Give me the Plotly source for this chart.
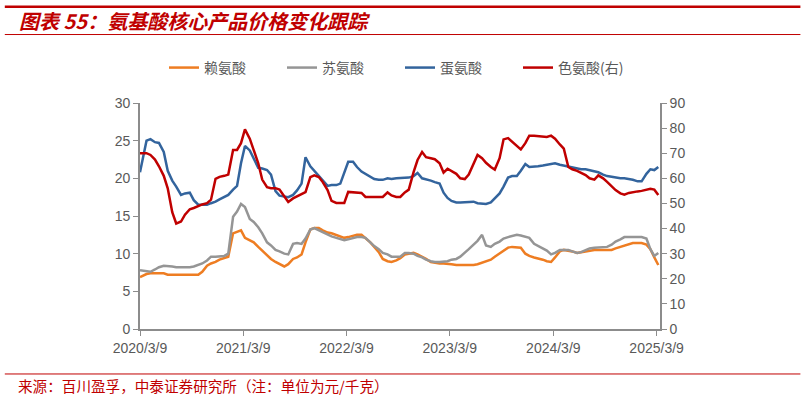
import pandas as pd
import plotly.graph_objects as go

# Dates: start point, then semi-monthly (1st / 15th) through 2025-03-15
dates = ["2020-03-09"] + [d.strftime("%Y-%m-%d") for d in pd.date_range("2020-04-01", "2025-03-15", freq="SMS")]

# 赖氨酸 (left axis, 元/千克)
lysine = [
    6.9, 7.3, 7.4, 7.4, 7.4, 7.4, 7.2, 7.2, 7.2, 7.2, 7.2, 7.2, 7.2, 7.2, 7.6, 8.4, 8.7, 8.9, 9.2,
    9.4, 9.6, 12.7, 12.9, 13.1, 12.1, 11.8, 11.5, 10.9, 10.4, 9.9, 9.3, 8.9, 8.6, 8.3, 8.6, 9.3, 9.5, 9.9, 11.5, 13.2, 13.4, 13.4, 13.1,
    12.8, 12.7, 12.5, 12.3, 12.1, 12.2, 12.4, 12.5, 12.5, 12.1, 11.5, 10.9, 10.2, 9.3, 9.0, 8.9, 9.1, 9.4, 9.9, 10.0, 10.1, 9.9, 9.6, 9.3,
    8.9, 8.8, 8.7, 8.7, 8.6, 8.6, 8.5, 8.5, 8.5, 8.5, 8.5, 8.6, 8.8, 8.9, 9.2, 9.6, 10.0, 10.4, 10.8, 10.9, 10.9, 10.8, 10.0, 9.7,
    9.5, 9.4, 9.2, 9.0, 8.9, 9.5, 10.3, 10.5, 10.4, 10.3, 10.1, 10.2, 10.3, 10.4, 10.5, 10.5, 10.5, 10.5, 10.5, 10.7, 10.9, 11.1, 11.3, 11.4,
    11.4, 11.4, 11.2, 10.6, 9.5, 8.5,
]

# 苏氨酸 (left axis)
threonine = [
    7.8, 7.7, 7.6, 7.9, 8.2, 8.4, 8.4, 8.3, 8.2, 8.2, 8.2, 8.2, 8.3, 8.5, 8.7, 9.1, 9.6, 9.6, 9.6,
    9.7, 10.0, 14.9, 15.6, 16.6, 16.2, 14.6, 14.2, 13.5, 12.7, 11.5, 11.1, 10.5, 10.3, 10.0, 9.9, 11.3, 11.4, 11.3, 12.0, 13.2, 13.4, 13.1, 12.9,
    12.6, 12.3, 12.1, 12.0, 11.8, 11.9, 12.1, 12.2, 12.2, 12.1, 11.5, 11.0, 10.6, 10.1, 9.9, 9.6, 9.6, 9.6, 10.1, 10.1, 10.0, 9.7, 9.5, 9.2,
    9.0, 8.9, 8.9, 8.9, 9.0, 9.2, 9.3, 9.6, 10.1, 10.6, 11.2, 11.7, 12.5, 11.1, 10.9, 11.3, 11.6, 12.0, 12.2, 12.3, 12.5, 12.4, 12.2, 12.1,
    11.3, 11.0, 10.7, 10.4, 9.9, 10.1, 10.5, 10.5, 10.5, 10.3, 10.1, 10.2, 10.5, 10.7, 10.8, 10.8, 10.9, 10.9, 11.2, 11.6, 11.9, 12.2, 12.2, 12.2,
    12.2, 12.2, 12.0, 10.6, 9.7, 10.1,
]

# 蛋氨酸 (left axis)
methionine = [
    20.8, 25.0, 25.2, 24.8, 24.7, 23.5, 21.0, 19.7, 18.9, 17.8, 18.0, 18.1, 17.1, 16.5, 16.5, 16.5, 16.7, 16.9, 17.2,
    17.5, 17.8, 18.5, 19.0, 22.0, 24.3, 23.7, 22.6, 21.4, 21.3, 21.1, 20.5, 18.3, 17.7, 17.6, 17.5, 17.8, 18.4, 19.3, 22.8, 21.6, 21.0, 20.4, 19.8,
    19.0, 19.1, 19.1, 19.3, 20.8, 22.2, 22.2, 21.5, 20.9, 20.6, 20.2, 19.9, 19.8, 19.8, 20.0, 19.9, 20.0, 20.0, 20.0, 20.1, 20.3, 20.7, 20.0, 19.9,
    19.7, 19.5, 19.3, 18.1, 17.4, 17.0, 16.8, 16.8, 16.8, 16.8, 16.9, 16.7, 16.6, 16.6, 16.8, 17.3, 18.0, 18.9, 20.1, 20.3, 20.3, 21.0, 21.9, 21.5,
    21.5, 21.6, 21.7, 21.8, 21.9, 22.0, 21.8, 21.7, 21.5, 21.4, 21.3, 21.2, 21.2, 21.1, 21.0, 20.8, 20.5, 20.3, 20.2, 20.1, 20.0, 20.0, 19.9, 19.8,
    19.6, 19.6, 20.6, 21.2, 21.1, 21.5,
]

# 色氨酸 (right axis)
tryptophan = [
    70.0, 70.0, 69.3, 67.5, 64.8, 61.0, 56.0, 46.5, 42.0, 42.8, 45.5, 47.7, 48.2, 49.0, 49.6, 50.1, 51.5, 59.8, 60.6,
    61.0, 61.5, 71.3, 71.3, 74.0, 79.5, 75.8, 71.5, 66.0, 59.5, 56.5, 56.1, 56.1, 55.5, 52.8, 50.6, 52.0, 52.8, 53.4, 54.5, 60.5, 61.2, 60.5, 58.5,
    55.3, 51.0, 50.2, 50.2, 50.2, 54.6, 54.5, 54.4, 54.2, 52.6, 52.6, 52.6, 52.6, 52.6, 54.4, 53.2, 52.6, 52.6, 54.4, 55.5, 62.5, 67.3, 70.5, 68.4,
    68.0, 67.6, 66.0, 62.3, 63.8, 63.0, 61.8, 60.0, 59.7, 61.5, 65.5, 69.3, 68.0, 66.2, 64.5, 63.5, 68.0, 75.5, 76.0, 74.6, 72.8, 71.5, 74.0, 77.0,
    77.0, 76.8, 76.5, 76.5, 77.0, 75.8, 73.5, 71.8, 64.5, 63.6, 63.0, 62.2, 61.3, 60.0, 59.5, 61.2, 60.0, 58.6, 56.8, 55.3, 54.0, 53.5, 54.2, 54.6,
    54.8, 55.0, 55.3, 55.8, 55.5, 53.4,
]

series_names = ["赖氨酸", "苏氨酸", "蛋氨酸", "色氨酸(右)"]
colors = ["#EE7D22", "#959595", "#33649D", "#C00000"]

tick_dates = ["2020-03-09", "2021-03-09", "2022-03-09", "2023-03-09", "2024-03-09", "2025-03-09"]
tick_text = ["2020/3/9", "2021/3/9", "2022/3/9", "2023/3/9", "2024/3/9", "2025/3/9"]

title_text = "图表 55：氨基酸核心产品价格变化跟踪"
source_text = "来源：百川盈孚，中泰证券研究所（注：单位为元/千克）"

fig = go.Figure()
for name, vals, col, ax in zip(series_names, [lysine, threonine, methionine, tryptophan], colors, ["y", "y", "y", "y2"]):
    fig.add_trace(go.Scatter(x=dates, y=vals, name=name, mode="lines",
                             line=dict(color=col, width=2.5), yaxis=ax))

axis_color = "#8C8C8C"
tick_font = dict(family="Liberation Sans, Arial, sans-serif", size=14, color="#595959")

fig.update_layout(
    width=803, height=397, autosize=False,
    margin=dict(l=140, r=143, t=103, b=68),
    paper_bgcolor="white", plot_bgcolor="white",
    showlegend=True,
    legend=dict(orientation="h", x=0.5, xanchor="center", y=1.155, yanchor="middle",
                font=dict(family="Noto Sans CJK SC", size=14, color="#595959"),
                entrywidth=73, entrywidthmode="pixels", bgcolor="rgba(0,0,0,0)"),
    xaxis=dict(type="date", range=["2020-03-09", "2025-03-21"], tickvals=tick_dates, ticktext=tick_text,
               showline=True, linecolor=axis_color, linewidth=1.6, ticks="outside", ticklen=5,
               tickcolor=axis_color, tickwidth=1.3, showgrid=False, zeroline=False, tickfont=tick_font),
    yaxis=dict(range=[0, 30], dtick=5, showline=True, linecolor=axis_color, linewidth=1.6,
               ticks="outside", ticklen=5, tickcolor=axis_color, tickwidth=1.3,
               showgrid=False, zeroline=False, tickfont=tick_font),
    yaxis2=dict(range=[0, 90], dtick=10, overlaying="y", side="right", showline=True,
                linecolor=axis_color, linewidth=1.6, ticks="outside", ticklen=5, tickcolor=axis_color,
                tickwidth=1.3, showgrid=False, zeroline=False, tickfont=tick_font),
)

red = "#C00000"
# decorative frame lines (paper coordinates relative to plot area)
fig.add_shape(type="line", xref="paper", yref="paper", x0=-0.26, x1=1.27, y0=1.426, y1=1.426,
              line=dict(color=red, width=2.5))
fig.add_shape(type="line", xref="paper", yref="paper", x0=-0.26, x1=1.27, y0=1.303, y1=1.303,
              line=dict(color=red, width=1))
fig.add_shape(type="line", xref="paper", yref="paper", x0=-0.26, x1=1.27, y0=-0.199, y1=-0.199,
              line=dict(color=red, width=1))

fig.add_annotation(xref="paper", yref="paper", x=-0.236, y=1.367, xanchor="left", yanchor="middle",
                   text="<b><i>" + title_text + "</i></b>", showarrow=False,
                   font=dict(family="Noto Sans CJK SC", size=20, color=red))
fig.add_annotation(xref="paper", yref="paper", x=-0.238, y=-0.252, xanchor="left", yanchor="middle",
                   text=source_text, showarrow=False,
                   font=dict(family="Noto Sans CJK SC", size=14.6, color=red))

fig.write_html("out.html")
